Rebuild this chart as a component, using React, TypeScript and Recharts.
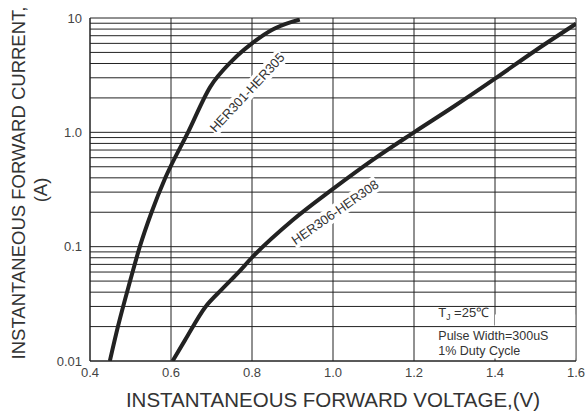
import { LineChart, Line, XAxis, YAxis, CartesianGrid, ReferenceLine, ReferenceDot, ReferenceArea, Label } from "recharts";

const voltageTicks = [0.4, 0.6, 0.8, 1.0, 1.2, 1.4, 1.6];
const currentTicks = [0.01, 0.1, 1, 10];
const currentTickLabels = ["0.01", "0.1", "1.0", "10"];
const minorGrid = [
  0.02, 0.03, 0.04, 0.05, 0.06, 0.07, 0.08, 0.09,
  0.2, 0.3, 0.4, 0.5, 0.6, 0.7, 0.8, 0.9,
  2, 3, 4, 5, 6, 7, 8, 9,
];

// HER301-HER305
const her301 = [
  { v: 0.449, i: 0.01 },
  { v: 0.469, i: 0.02 },
  { v: 0.499, i: 0.05 },
  { v: 0.523, i: 0.1 },
  { v: 0.552, i: 0.2 },
  { v: 0.586, i: 0.4 },
  { v: 0.642, i: 1.0 },
  { v: 0.697, i: 2.5 },
  { v: 0.75, i: 4.2 },
  { v: 0.8, i: 6.0 },
  { v: 0.85, i: 7.9 },
  { v: 0.9, i: 9.3 },
  { v: 0.918, i: 9.7 },
];

// HER306-HER308
const her306 = [
  { v: 0.604, i: 0.01 },
  { v: 0.635, i: 0.0153 },
  { v: 0.684, i: 0.0294 },
  { v: 0.726, i: 0.0425 },
  { v: 0.763, i: 0.0577 },
  { v: 0.802, i: 0.0817 },
  { v: 0.9, i: 0.17 },
  { v: 1.0, i: 0.32 },
  { v: 1.1, i: 0.58 },
  { v: 1.2, i: 1.0 },
  { v: 1.3, i: 1.7 },
  { v: 1.4, i: 2.95 },
  { v: 1.5, i: 5.2 },
  { v: 1.6, i: 8.9 },
];

const ink = "#222";
const font = "'Liberation Sans', Arial, sans-serif";

function curveTag(text: string, angle: number, w: number) {
  return (props: any) => {
    const vb = props.viewBox;
    const cx = vb.x + vb.width / 2;
    const cy = vb.y + vb.height / 2;
    return (
      <g transform={`translate(${cx},${cy}) rotate(${angle})`}>
        <rect x={-w / 2} y={-8} width={w} height={16} fill="#fff" />
        <text x={0} y={0} textAnchor="middle" dominantBaseline="central" fontSize={13} fill="#333" fontFamily={font}>
          {text}
        </text>
      </g>
    );
  };
}

function conditionsNote(props: any) {
  const vb = props.viewBox;
  const x = vb.x + vb.width / 2;
  const y = vb.y + vb.height / 2;
  return (
    <g fontFamily={font} fill="#333">
      <text x={x} y={y} fontSize={13}>
        T<tspan fontSize={8.5} dy={3}>J</tspan>
        <tspan dy={-3}> =25℃</tspan>
      </text>
      <text x={x} y={y + 23} fontSize={12.5}>Pulse Width=300uS</text>
      <text x={x} y={y + 38} fontSize={12.5}>1% Duty Cycle</text>
    </g>
  );
}

function yTitle() {
  return (
    <g fontFamily={font} fontSize={18.5} fill="#333">
      <text x={18} y={183} textAnchor="middle" dominantBaseline="central" transform="rotate(-90 18 183)">
        INSTANTANEOUS FORWARD CURRENT,
      </text>
      <text x={40} y={190} textAnchor="middle" dominantBaseline="central" transform="rotate(-90 40 190)">
        (A)
      </text>
    </g>
  );
}

export default function App() {
  return (
    <div style={{ position: "absolute", left: 0, top: 0, background: "#fff" }}>
      <LineChart width={588} height={413} margin={{ top: 18, right: 12, bottom: 0, left: 0 }} style={{ fontFamily: font }}>
        <CartesianGrid stroke={ink} strokeWidth={1} />
        {minorGrid.map((g) => (
          <ReferenceLine key={g} y={g} stroke={ink} strokeWidth={1} ifOverflow="hidden" />
        ))}
        <XAxis
          dataKey="v"
          type="number"
          domain={[0.4, 1.6]}
          ticks={voltageTicks}
          tickFormatter={(v: number) => v.toFixed(1)}
          allowDataOverflow
          height={52}
          tickLine={false}
          axisLine={{ stroke: ink }}
          tick={{ fontSize: 13, fill: "#444" }}
          tickMargin={1}
        >
          <Label value="INSTANTANEOUS FORWARD VOLTAGE,(V)" position="insideBottom" offset={6} style={{ fontSize: 20.5, fill: "#333" }} />
        </XAxis>
        <YAxis
          dataKey="i"
          type="number"
          scale="log"
          domain={[0.01, 10]}
          ticks={currentTicks}
          tickFormatter={(v: number) => currentTickLabels[currentTicks.indexOf(v)]}
          allowDataOverflow
          width={90}
          tickLine={false}
          axisLine={{ stroke: ink }}
          tick={{ fontSize: 13, fill: "#444" }}
        >
          <Label content={yTitle} />
        </YAxis>
        <ReferenceArea x1={1.245} x2={1.598} y1={0.0105} y2={0.0204} fill="#fff" fillOpacity={1} stroke="none" />
        <ReferenceArea x1={1.4} x2={1.598} y1={0.0195} y2={0.0255} fill="#fff" fillOpacity={1} stroke="none" />
        <ReferenceDot x={0.788} y={2.23} r={0} fill="none" stroke="none" label={curveTag("HER301-HER305", -47, 104)} />
        <ReferenceDot x={1.005} y={0.2} r={0} fill="none" stroke="none" label={curveTag("HER306-HER308", -35, 104)} />
        <ReferenceDot x={1.26} y={0.0245} r={0} fill="none" stroke="none" label={conditionsNote} />
        <Line data={her301} dataKey="i" type="monotone" stroke={ink} strokeWidth={4} dot={false} isAnimationActive={false} />
        <Line data={her306} dataKey="i" type="monotone" stroke={ink} strokeWidth={4} dot={false} isAnimationActive={false} />
      </LineChart>
    </div>
  );
}
